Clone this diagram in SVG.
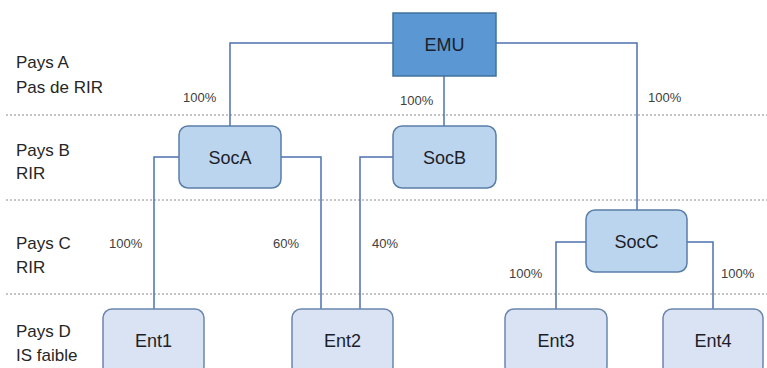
<svg xmlns="http://www.w3.org/2000/svg" width="767" height="368" viewBox="0 0 767 368">
  <style>
    .band { stroke: #8a8a8a; stroke-width: 1; stroke-dasharray: 2 2; fill: none; }
    .row { font-family: "Liberation Sans", Arial, sans-serif; font-size: 17px; fill: #262626; }
    .pct { font-family: "Liberation Sans", Arial, sans-serif; font-size: 13px; fill: #404040; }
    .label { font-family: "Liberation Sans", Arial, sans-serif; font-size: 18px; fill: #1c1f2a; text-anchor: middle; }
    .link { stroke: #4d72ae; stroke-width: 1.5; fill: none; }
    .top { fill: #5b97d3; stroke: #41719c; stroke-width: 1.5; }
    .mid { fill: #bcd5ee; stroke: #5a7ea8; stroke-width: 1.5; }
    .leaf { fill: #dae3f3; stroke: #6a86ae; stroke-width: 1.5; }
  </style>

  <!-- country bands -->
  <g id="bands">
    <line class="band" x1="6" y1="115" x2="767" y2="115"/>
    <line class="band" x1="6" y1="200" x2="767" y2="200"/>
    <line class="band" x1="6" y1="294" x2="767" y2="294"/>
  </g>

  <g id="row-labels">
    <text class="row" x="16" y="68">Pays A</text>
    <text class="row" x="16" y="93">Pas de RIR</text>
    <text class="row" x="16" y="156">Pays B</text>
    <text class="row" x="16" y="179">RIR</text>
    <text class="row" x="16" y="249">Pays C</text>
    <text class="row" x="16" y="273">RIR</text>
    <text class="row" x="16" y="337">Pays D</text>
    <text class="row" x="16" y="361">IS faible</text>
  </g>

  <!-- ownership links -->
  <g id="connectors">
    <polyline class="link" points="393,43 230,43 230,126"/>
    <polyline class="link" points="496,43 637,43 637,210"/>
    <line class="link" x1="444" y1="76" x2="444" y2="126"/>
    <polyline class="link" points="179,157 154,157 154,309"/>
    <polyline class="link" points="281,157 321,157 321,309"/>
    <polyline class="link" points="393,157 360,157 360,309"/>
    <polyline class="link" points="586,242 556,242 556,309"/>
    <polyline class="link" points="687,242 713,242 713,309"/>
  </g>

  <g id="percentages">
    <text class="pct" x="183" y="102">100%</text>
    <text class="pct" x="400" y="105">100%</text>
    <text class="pct" x="648" y="102">100%</text>
    <text class="pct" x="109" y="248">100%</text>
    <text class="pct" x="273" y="248">60%</text>
    <text class="pct" x="372" y="248">40%</text>
    <text class="pct" x="509" y="278">100%</text>
    <text class="pct" x="721" y="278">100%</text>
  </g>

  <g id="EMU">
    <rect class="top" x="393" y="13" width="103" height="63"/>
    <text class="label" x="444.5" y="51">EMU</text>
  </g>
  <g id="SocA">
    <rect class="mid" x="179" y="126" width="102" height="62" rx="9"/>
    <text class="label" x="230" y="164">SocA</text>
  </g>
  <g id="SocB">
    <rect class="mid" x="393" y="126" width="103" height="62" rx="9"/>
    <text class="label" x="444.5" y="164">SocB</text>
  </g>
  <g id="SocC">
    <rect class="mid" x="586" y="210" width="101" height="62" rx="9"/>
    <text class="label" x="636.5" y="248">SocC</text>
  </g>
  <g id="Ent1">
    <rect class="leaf" x="103" y="309" width="101" height="66" rx="9"/>
    <text class="label" x="153.5" y="347">Ent1</text>
  </g>
  <g id="Ent2">
    <rect class="leaf" x="292" y="309" width="101" height="66" rx="9"/>
    <text class="label" x="342.5" y="347">Ent2</text>
  </g>
  <g id="Ent3">
    <rect class="leaf" x="505" y="309" width="102" height="66" rx="9"/>
    <text class="label" x="556" y="347">Ent3</text>
  </g>
  <g id="Ent4">
    <rect class="leaf" x="663" y="309" width="100" height="66" rx="9"/>
    <text class="label" x="713" y="347">Ent4</text>
  </g>
</svg>
